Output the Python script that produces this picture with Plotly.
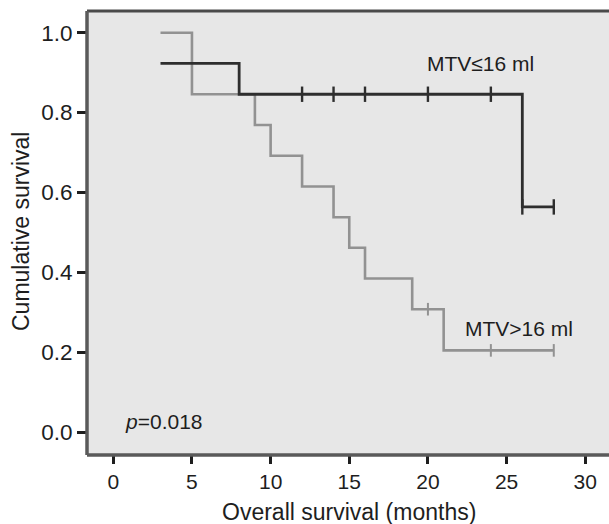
import plotly.graph_objects as go

# ---- data ----
low_times = [3, 8, 26, 28]
low_surv = [0.923, 0.846, 0.564, 0.564]
low_cens_t = [12, 14, 16, 20, 24, 26, 28]
low_cens_s = [0.846, 0.846, 0.846, 0.846, 0.846, 0.564, 0.564]

high_times = [3, 5, 9, 10, 12, 14, 15, 16, 19, 21, 28]
high_surv = [1.0, 0.846, 0.769, 0.692, 0.615, 0.538, 0.462, 0.385, 0.308, 0.205, 0.205]
high_cens_t = [20, 24, 28]
high_cens_s = [0.308, 0.205, 0.205]

x_ticks = [0, 5, 10, 15, 20, 25, 30]
y_ticks = [0.0, 0.2, 0.4, 0.6, 0.8, 1.0]
y_tick_labels = ["0.0", "0.2", "0.4", "0.6", "0.8", "1.0"]

DARK = "#2e2e2e"
LIGHT = "#929292"
TXT = "#1e1e1e"
FONT = "Liberation Sans, Arial, sans-serif"

W, H = 609, 524
ML, MR, MT, MB = 87, 0, 11, 69

fig = go.Figure()
fig.add_trace(go.Scatter(x=high_times, y=high_surv, mode="lines",
                         line=dict(color=LIGHT, width=2.6, shape="hv"),
                         showlegend=False, hoverinfo="skip"))
fig.add_trace(go.Scatter(x=high_cens_t, y=high_cens_s, mode="markers",
                         marker=dict(symbol="line-ns", size=9,
                                     line=dict(color=LIGHT, width=2)),
                         showlegend=False, hoverinfo="skip"))
fig.add_trace(go.Scatter(x=low_times, y=low_surv, mode="lines",
                         line=dict(color=DARK, width=2.8, shape="hv"),
                         showlegend=False, hoverinfo="skip"))
fig.add_trace(go.Scatter(x=low_cens_t, y=low_cens_s, mode="markers",
                         marker=dict(symbol="line-ns", size=11,
                                     line=dict(color=DARK, width=2.4)),
                         showlegend=False, hoverinfo="skip"))


def px_x(px):
    return (px - ML) / (W - ML - MR)


def px_y(py):
    return (H - py - MB) / (H - MT - MB)


def ann(text, x, y, size, angle=0):
    return dict(text=text, x=px_x(x), y=px_y(y), xref="paper", yref="paper",
                xanchor="center", yanchor="middle", showarrow=False,
                textangle=angle, font=dict(size=size, family=FONT, color=TXT))


fig.update_layout(
    width=W, height=H,
    margin=dict(l=ML, r=MR, t=MT, b=MB, autoexpand=False),
    paper_bgcolor="white",
    plot_bgcolor="#e7e7e7",
    font=dict(family=FONT, size=21, color=TXT),
    xaxis=dict(range=[-1.672, 31.51], tickmode="array", tickvals=x_ticks,
               ticks="outside", ticklen=8, tickwidth=3, tickcolor=TXT,
               showgrid=False, zeroline=False, showline=False,
               tickfont=dict(size=21, family=FONT, color=TXT)),
    yaxis=dict(range=[-0.0568, 1.0543], tickmode="array", tickvals=y_ticks,
               ticktext=y_tick_labels,
               ticks="outside", ticklen=9, tickwidth=3, tickcolor=TXT,
               showgrid=False, zeroline=False, showline=False,
               tickfont=dict(size=22.5, family=FONT, color=TXT)),
    shapes=[
        dict(type="line", xref="paper", yref="paper", x0=0, x1=1.02, y0=1, y1=1,
             line=dict(color="#4a4a4a", width=3)),
        dict(type="line", xref="paper", yref="paper", x0=0, x1=0, y0=0, y1=1,
             line=dict(color="#5a5a5a", width=3.5)),
        dict(type="line", xref="paper", yref="paper", x0=0, x1=1.02, y0=0, y1=0,
             line=dict(color="#5a5a5a", width=3.5)),
    ],
    annotations=[
        ann("MTV≤16 ml", 480.6, 63.3, 21),
        ann("MTV>16 ml", 518.6, 328.3, 21),
        ann("<i>p</i>=0.018", 164, 421, 21),
        ann("Overall survival (months)", 348.5, 511.7, 23),
        ann("Cumulative survival", 21, 232, 23, -90),
    ],
)

fig.write_html("out.html",
               config={"displayModeBar": False},
               post_script="document.body.style.margin='0';document.body.style.padding='0';")
